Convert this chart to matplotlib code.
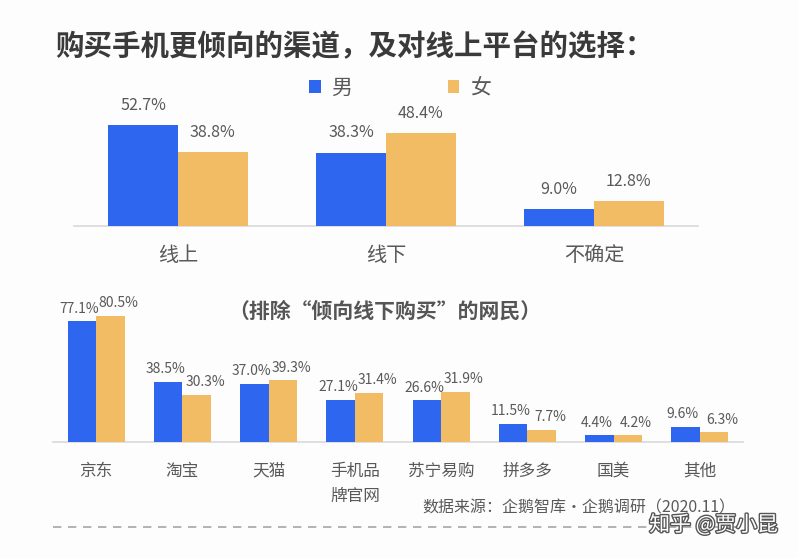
import matplotlib
matplotlib.use("Agg")
import matplotlib.pyplot as plt
import matplotlib.patheffects as pe
import numpy as np

plt.rcParams['font.family'] = ['Noto Sans CJK SC', 'DejaVu Sans']

# Data
channel_cats = ["线上", "线下", "不确定"]
channel_male = [52.7, 38.3, 9.0]
channel_female = [38.8, 48.4, 12.8]

platform_cats = ["京东", "淘宝", "天猫", "手机品\n牌官网", "苏宁易购", "拼多多", "国美", "其他"]
platform_male = [77.1, 38.5, 37.0, 27.1, 26.6, 11.5, 4.4, 9.6]
platform_female = [80.5, 30.3, 39.3, 31.4, 31.9, 7.7, 4.2, 6.3]

title = "购买手机更倾向的渠道，及对线上平台的选择："
subtitle = "（排除“倾向线下购买”的网民）"
source = "数据来源：企鹅智库·企鹅调研（2020.11）"
watermark = "知乎 @贾小昆"

BLUE = "#2F66F0"
ORANGE = "#F2BC64"
TXT = "#595959"
W, H = 799, 558

fig = plt.figure(figsize=(W / 100, H / 100), dpi=100)
fig.patch.set_facecolor("#FDFDFD")

def fx(px):
    return px / W

def fy(py):
    return 1 - py / H

# Top chart
ax1 = fig.add_axes([fx(74), fy(226), fx(698) - fx(74), (226 - 111) / H])
x1 = np.arange(len(channel_cats))
bw1 = 0.335
b1m = ax1.bar(x1 - bw1 / 2, channel_male, bw1, color=BLUE, zorder=3)
b1f = ax1.bar(x1 + bw1 / 2, channel_female, bw1, color=ORANGE, zorder=3)
ax1.set_xlim(-0.5, 2.5)
ax1.set_ylim(0, 60)
for bars, vals in ((b1m, channel_male), (b1f, channel_female)):
    for b, v in zip(bars, vals):
        ax1.annotate(f"{v:.1f}%", (b.get_x() + b.get_width() / 2, v),
                     xytext=(0, 8), textcoords="offset points", ha="center",
                     va="bottom", fontsize=11.5, color=TXT, annotation_clip=False)
ax1.set_xticks(x1)
ax1.set_xticklabels(channel_cats, fontsize=14.5, color=TXT)
ax1.tick_params(axis="x", length=0, pad=14)
ax1.set_yticks([])
for s in ("top", "right", "left"):
    ax1.spines[s].set_visible(False)
ax1.spines["bottom"].set_color("#D9D9D9")
ax1.spines["bottom"].set_linewidth(1.2)
ax1.set_facecolor("none")

# Legend
leg = ax1.legend([b1m, b1f], ["男", "女"], loc="center", ncol=2,
                 bbox_to_anchor=(fx(400), fy(88)), bbox_transform=fig.transFigure,
                 frameon=False, fontsize=15, handlelength=0.55, handleheight=0.55,
                 columnspacing=4.6, handletextpad=0.5)
for t in leg.get_texts():
    t.set_color(TXT)

# Bottom chart
ax2 = fig.add_axes([fx(53), fy(442), fx(743) - fx(53), (442 - 301) / H])
x2 = np.arange(len(platform_cats))
bw2 = 0.33
b2m = ax2.bar(x2 - bw2 / 2, platform_male, bw2, color=BLUE, zorder=3)
b2f = ax2.bar(x2 + bw2 / 2, platform_female, bw2, color=ORANGE, zorder=3)
ax2.set_xlim(-0.5, 7.5)
ax2.set_ylim(0, 90)
for bars, vals, dx in ((b2m, platform_male, -2), (b2f, platform_female, 6)):
    for b, v in zip(bars, vals):
        ax2.annotate(f"{v:.1f}%", (b.get_x() + b.get_width() / 2, v),
                     xytext=(dx, 4), textcoords="offset points", ha="center",
                     va="bottom", fontsize=10, color=TXT, annotation_clip=False)
ax2.set_xticks(x2)
ax2.set_xticklabels(platform_cats, fontsize=12, color=TXT, linespacing=1.6, va="top")
ax2.tick_params(axis="x", length=0, pad=15)
ax2.set_yticks([])
for s in ("top", "right", "left"):
    ax2.spines[s].set_visible(False)
ax2.spines["bottom"].set_color("#D9D9D9")
ax2.spines["bottom"].set_linewidth(1.2)
ax2.set_facecolor("none")

# Texts
fig.text(fx(55), fy(47), title, fontsize=20.5, fontweight="bold", color="#3A3A3A",
         ha="left", va="center")
fig.text(fx(385), fy(311), subtitle, fontsize=15, fontweight="bold", color="#555555",
         ha="center", va="center")
fig.text(fx(735), fy(508), source, fontsize=11.5, color=TXT, ha="right", va="center")

# Dashed line
fig.add_artist(plt.Line2D([fx(53), fx(740)], [fy(527), fy(527)], color="#A6A6A6",
                          linestyle=(0, (5, 4)), linewidth=1.2,
                          transform=fig.transFigure))
fig.text(fx(778), fy(525), watermark, fontsize=15, color="#FFFFFF", ha="right",
         va="center", path_effects=[pe.withStroke(linewidth=2.0, foreground="#555555")])

fig.savefig("out.png", dpi=100, facecolor=fig.get_facecolor())
